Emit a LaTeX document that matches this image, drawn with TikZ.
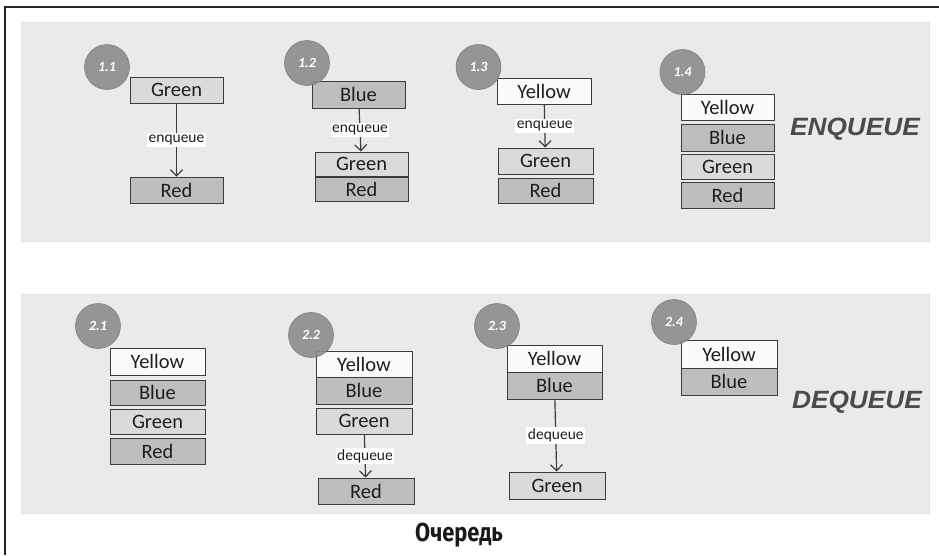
\documentclass[tikz,border=0pt]{standalone}
\usepackage{fontspec}
\setmainfont{Carlito}
\newfontfamily\headfont{Liberation Sans}
\newfontfamily\capfont{Fira Sans}
\usetikzlibrary{arrows.meta}
\definecolor{panelc}{RGB}{234,234,236}
\definecolor{panelb}{RGB}{224,224,226}
\definecolor{lightc}{RGB}{218,218,218}
\definecolor{darkc}{RGB}{190,190,190}
\definecolor{whitec}{RGB}{250,250,250}
\definecolor{edgec}{RGB}{60,60,60}
\definecolor{circc}{RGB}{140,140,140}
\definecolor{textc}{RGB}{30,30,30}
\definecolor{headc}{RGB}{75,75,75}
\tikzset{
  cell/.style={draw=edgec, line width=1pt, inner sep=0pt, minimum width=93pt, minimum height=26pt,
    font=\fontsize{20.5}{21}\selectfont, text=textc},
  yel/.style={cell, fill=whitec},
  blu/.style={cell, fill=darkc},
  grn/.style={cell, fill=lightc},
  rd/.style={cell, fill=darkc},
  badge/.style={circle, fill=circc, draw=circc!85!black, line width=0.6pt, fill opacity=0.9, draw opacity=0.9,
    minimum size=45pt, inner sep=0pt, text=white, text opacity=1, font=\fontsize{14}{15}\selectfont\bfseries\itshape},
  conn/.style={draw=edgec, line width=1.2pt, -{Straight Barb[length=6pt,width=12pt]}},
  lab/.style={fill=white, inner sep=1.5pt, font=\fontsize{15.5}{16}\selectfont, text=textc},
  panel/.style={fill=panelc, draw=panelb, line width=0.6pt},
  head/.style={font=\headfont\fontsize{25}{26}\selectfont\bfseries\itshape, text=headc}
}
\begin{document}
\begin{tikzpicture}[x=1pt,y=-1pt]
\useasboundingbox (0,0) rectangle (939,555);
\fill[white] (0,0) rectangle (939,555);
% frame
\draw[line width=2pt, black!85] (5,555) -- (5,7) -- (939,7);
% panels
\draw[panel] (21,22) rectangle (929,241);
\draw[panel] (21,294) rectangle (929,513);

% ---- 1.1
\node[grn] (g11) at (176.5,90) {Green};
\node[rd] (r11) at (176.5,190) {Red};
\draw[conn] (g11) -- node[lab] (e11) {enqueue} (r11);
\node[badge] (c11) at (107,67) {1.1};

% ---- 1.2
\node[blu, minimum height=27pt] (b12) at (358.5,94.5) {Blue};
\node[grn, minimum height=24pt] (g12) at (361.5,164) {Green};
\node[rd, minimum height=24pt] (r12) at (361.5,189) {Red};
\draw[conn] (b12) -- node[lab] (e12) {enqueue} (g12);
\node[badge] (c12) at (307,63) {1.2};

% ---- 1.3
\node[yel, minimum width=94pt] (y13) at (544,91) {Yellow};
\node[grn, minimum width=95pt] (g13) at (545.5,161) {Green};
\node[rd, minimum width=95pt, minimum height=25pt] (r13) at (545.5,190.5) {Red};
\draw[conn] (y13) -- node[lab] (e13) {enqueue} (g13);
\node[badge] (c13) at (478.5,67) {1.3};

% ---- 1.4
\node[yel] (y14) at (727.5,107) {Yellow};
\node[blu, minimum height=27pt] (b14) at (727.5,137.5) {Blue};
\node[grn, minimum height=25pt] (g14) at (727.5,166.5) {Green};
\node[rd] (r14) at (727.5,195) {Red};
\node[badge] (c14) at (682.5,72) {1.4};

\node[head] (enq) at (855,129) {\scalebox{1.05}[1]{ENQUEUE}};

% ---- 2.1
\node[yel, minimum width=95pt, minimum height=27pt] (y21) at (157.5,361.5) {Yellow};
\node[blu, minimum width=95pt, minimum height=25pt] (b21) at (157.5,392.5) {Blue};
\node[grn, minimum width=95pt, minimum height=25pt] (g21) at (157.5,421.5) {Green};
\node[rd, minimum width=95pt] (r21) at (157.5,451) {Red};
\node[badge] (c21) at (98,326) {2.1};

% ---- 2.2
\node[yel, minimum width=96pt] (y22) at (364,364) {Yellow};
\node[blu, minimum width=96pt, minimum height=27pt] (b22) at (364,390.5) {Blue};
\node[grn, minimum width=96pt] (g22) at (364,421) {Green};
\node[rd, minimum width=96pt] (r22) at (366,491) {Red};
\draw[conn] (g22) -- node[lab] (d22) {dequeue} (r22);
\node[badge] (c22) at (311,335) {2.2};

% ---- 2.3
\node[yel, minimum width=95pt, minimum height=27pt] (y23) at (554.5,358.5) {Yellow};
\node[blu, minimum width=95pt, minimum height=27pt] (b23) at (554.5,385.5) {Blue};
\node[grn, minimum width=96pt, minimum height=27pt] (g23) at (557,485.5) {Green};
\draw[conn] (b23) -- node[lab] (d23) {dequeue} (g23);
\node[badge] (c23) at (497,326) {2.3};

% ---- 2.4
\node[yel, minimum width=96pt, minimum height=28pt] (y24) at (729,354) {Yellow};
\node[blu, minimum width=96pt, minimum height=27pt] (b24) at (729,381.5) {Blue};
\node[badge] (c24) at (674,322) {2.4};

\node[head] (deq) at (857,402) {\scalebox{1.05}[1]{DEQUEUE}};

% caption
\node[font=\capfont\fontsize{26}{27}\selectfont\bfseries, text=black!90] (cap) at (459,535) {\scalebox{0.84}[1]{Очередь}};
\end{tikzpicture}
\end{document}
